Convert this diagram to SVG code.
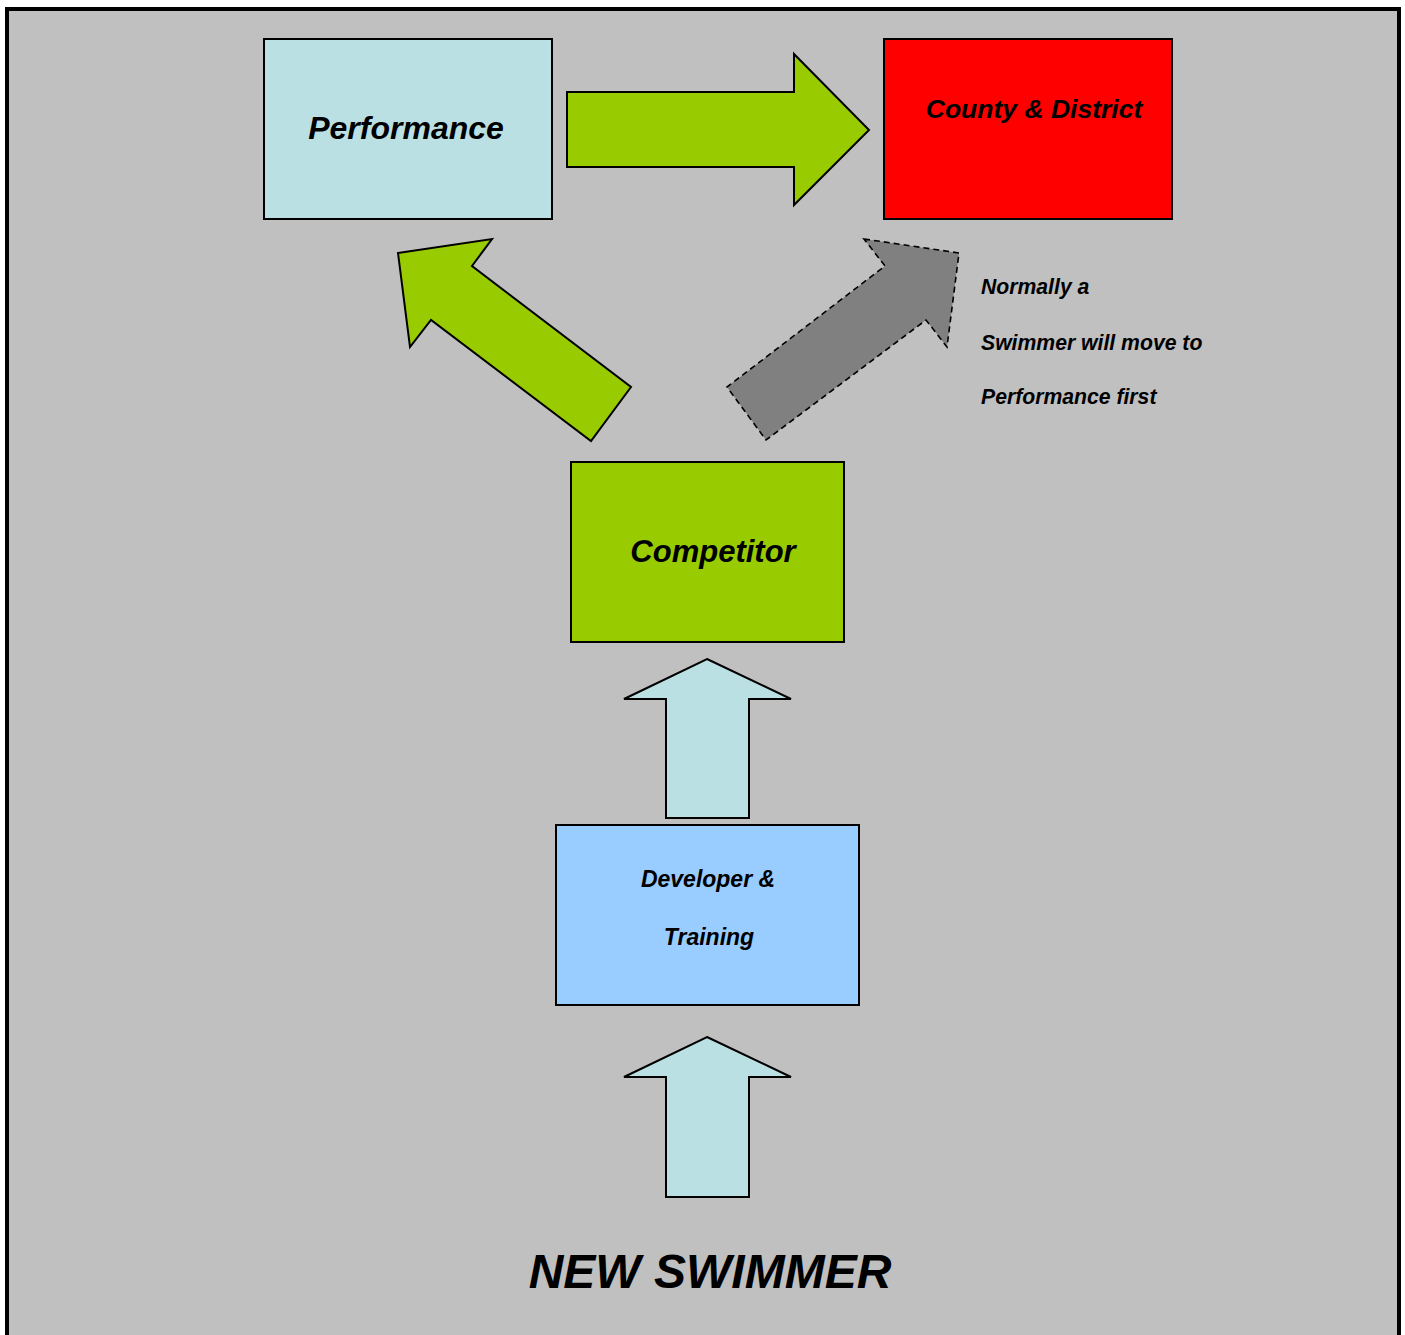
<svg xmlns="http://www.w3.org/2000/svg" width="1405" height="1335" viewBox="0 0 1405 1335">
<style>
.box{stroke:#000;stroke-width:2}
.arr{stroke:#000;stroke-width:2;stroke-linejoin:miter}
.dash{stroke:#000;stroke-width:1.6;stroke-dasharray:6 4;fill:#808080}
text{font-family:"Liberation Sans",Arial,sans-serif;font-weight:bold;font-style:italic;fill:#000}
.c{text-anchor:middle}
</style>
<rect x="0" y="0" width="1405" height="1335" fill="#fff"/>
<rect x="7" y="9" width="1392" height="1340" fill="#C0C0C0" stroke="#000" stroke-width="4"/>
<g id="connectors">
<polygon class="arr" fill="#99CC00" points="567,92 794,92 794,54 869,130 794,205 794,167 567,167"/>
<polygon class="arr" fill="#99CC00" points="398,253 492,239 472,266 631,387 591,441 431,320 410,347"/>
<polygon class="dash" points="864,239 959,253 947,347 926,320 766,440 727,387 885,266"/>
<polygon class="arr" fill="#BBE0E3" points="707,659 791,699 749,699 749,818 666,818 666,699 624,699"/>
<polygon class="arr" fill="#BBE0E3" points="707,1037 791,1077 749,1077 749,1197 666,1197 666,1077 624,1077"/>
</g>
<g id="performance">
<rect class="box" x="264" y="39" width="288" height="180" fill="#BBE0E3"/>
<text class="c" x="406" y="139" font-size="32">Performance</text>
</g>
<g id="county">
<rect class="box" x="884" y="39" width="288" height="180" fill="#FF0000"/>
<text class="c" x="1034" y="118" font-size="26.5">County &amp; District</text>
</g>
<g id="competitor">
<rect class="box" x="571" y="462" width="273" height="180" fill="#99CC00"/>
<text class="c" x="713" y="562" font-size="31">Competitor</text>
</g>
<g id="developer">
<rect class="box" x="556" y="825" width="303" height="180" fill="#99CCFF"/>
<text class="c" x="708" y="887" font-size="23">Developer &amp;</text>
<text class="c" x="709" y="945" font-size="23">Training</text>
</g>
<g id="note">
<text x="981" y="294" font-size="21.2">Normally a</text>
<text x="981" y="350" font-size="21.2">Swimmer will move to</text>
<text x="981" y="404" font-size="21.2">Performance first</text>
</g>
<g id="new-swimmer">
<text class="c" x="710" y="1288" font-size="48">NEW SWIMMER</text>
</g>
</svg>
